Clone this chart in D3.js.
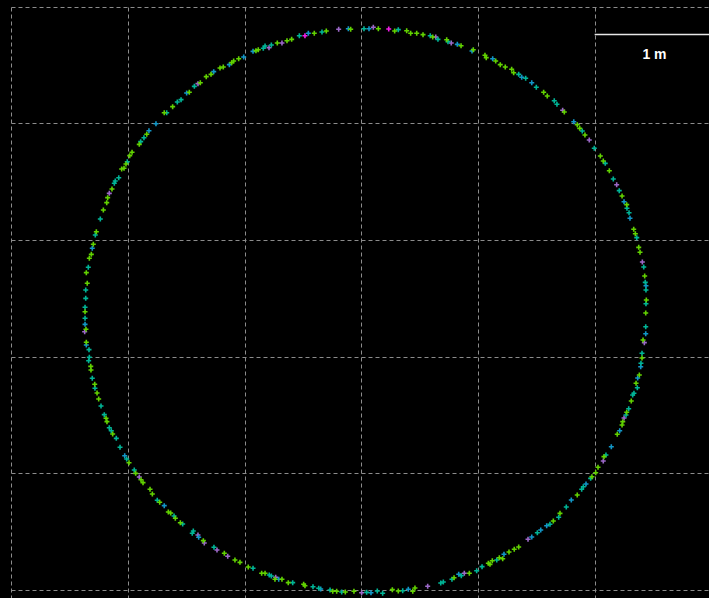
<!DOCTYPE html>
<html>
<head>
<meta charset="utf-8">
<script src="https://cdn.jsdelivr.net/npm/d3@7/dist/d3.min.js"></script>
<style>
  html, body { margin: 0; padding: 0; background: #000; }
  svg { display: block; }
</style>
</head>
<body>
<div id="chart"></div>
<script>
// Scan returns of a round room, positions in metres (x to the right, y up).
const xs = [
  0.632,0.632,0.638,0.638,0.651,0.643,0.660,0.669,0.686,0.694,
  0.703,0.720,0.729,0.763,0.789,0.818,0.826,0.840,0.863,0.883,
  0.891,0.921,0.946,0.966,0.983,0.994,1.015,1.035,1.097,1.109,
  1.137,1.161,1.180,1.240,1.311,1.332,1.383,1.423,1.455,1.503,
  1.526,1.569,1.600,1.620,1.671,1.712,1.735,1.789,1.817,1.869,
  1.889,1.906,1.949,1.992,2.072,2.097,2.117,2.160,2.175,2.209,
  2.229,2.280,2.320,2.363,2.403,2.469,2.517,2.546,2.597,2.663,
  2.700,2.806,2.889,2.909,3.023,3.066,
  3.103,3.146,3.235,3.317,
  3.286,3.389,3.423,3.475,3.529,3.591,3.612,3.638,3.657,3.732,
  3.743,3.771,3.823,3.855,3.949,3.960,4.060,4.071,4.126,4.152,
  4.191,4.234,4.289,4.306,4.349,4.375,4.409,4.461,4.500,4.563,
  4.594,4.654,4.677,4.726,4.740,4.821,4.851,4.872,4.894,4.917,
  4.954,4.997,5.049,5.074,5.091,5.126,5.160,5.189,5.211,5.235,
  5.252,5.275,5.277,5.295,5.303,5.335,5.349,5.361,5.378,5.389,
  5.409,5.421,5.429,5.434,5.440,5.440,5.443,5.440,5.438,
  5.438,5.438,5.426,5.415,5.406,5.406,5.397,5.395,5.383,5.369,5.355,
  5.366,5.337,5.326,5.314,5.292,5.275,5.269,5.252,5.241,5.235,
  5.215,5.194,5.143,5.097,5.080,5.074,5.029,5.009,4.977,4.966,
  4.926,4.903,4.889,4.851,4.800,4.757,4.703,4.692,4.646,4.617,
  4.589,4.538,4.509,4.461,4.429,4.349,4.311,4.266,4.223,4.212,
  4.183,4.161,4.123,4.103,4.089,4.035,3.989,3.926,3.883,3.857,
  3.835,3.795,3.777,3.703,3.681,3.569,3.460,3.441,3.403,3.355,
  3.317,3.266,3.183,3.137,3.083,3.046,3.003,
  0.632,0.632,0.640,
  0.629,0.643,0.643,0.666,0.669,0.663,0.681,0.683,0.694,0.715,
  0.717,0.735,0.749,0.769,0.797,0.812,0.820,0.840,0.857,0.869,
  0.900,0.932,0.972,0.989,1.009,1.054,1.066,1.097,1.112,1.129,
  1.189,1.209,1.251,1.272,1.311,1.346,1.366,1.395,1.406,1.449,
  1.469,1.551,1.560,1.600,1.606,1.646,1.654,1.737,1.763,1.826,
  1.855,1.917,1.960,2.031,2.072,2.146,2.175,2.211,2.229,2.266,
  2.260,2.292,2.320,2.374,2.412,2.506,2.517,2.586,2.635,2.652,
  2.732,2.755,2.789,2.832,2.863,2.937
];

const ys = [
  2.385,2.423,2.500,2.571,2.629,2.720,2.766,2.843,2.877,2.929,
  2.963,3.043,3.071,3.180,3.257,3.320,3.363,3.400,3.437,3.486,
  3.506,3.534,3.609,3.615,3.651,3.671,3.723,3.752,3.820,3.843,
  3.877,3.906,3.937,3.997,4.091,4.091,4.143,4.183,4.203,4.260,
  4.266,4.317,4.340,4.348,4.400,4.420,4.443,4.474,4.483,4.503,
  4.520,4.534,4.554,4.569,4.617,4.623,4.631,4.643,4.663,4.648,
  4.671,4.689,4.689,4.708,4.720,4.751,4.751,4.772,4.772,4.783,
  4.791,4.806,4.811,4.806,4.811,4.811,
  4.823,4.811,4.809,4.803,
  4.791,4.794,4.772,4.772,4.760,4.751,4.740,4.740,4.720,4.717,
  4.700,4.689,4.677,4.665,4.620,4.631,4.583,4.563,4.554,4.534,
  4.503,4.483,4.463,4.434,4.420,4.395,4.386,4.348,4.309,4.266,
  4.234,4.194,4.163,4.112,4.097,4.014,3.988,3.957,3.934,3.900,
  3.857,3.786,3.720,3.677,3.657,3.594,3.523,3.474,3.423,3.377,
  3.328,3.303,3.272,3.234,3.186,3.092,3.054,3.020,2.937,2.895,
  2.811,2.769,2.691,2.637,2.608,2.571,2.486,2.454,2.374,
  2.257,2.197,2.120,2.143,2.029,1.989,1.943,1.914,1.843,1.817,1.772,
  1.734,1.686,1.671,1.620,1.554,1.523,1.500,1.474,1.443,1.414,
  1.365,1.335,1.228,1.157,1.143,1.106,1.052,1.005,0.971,0.957,
  0.909,0.885,0.863,0.814,0.771,0.711,0.657,0.623,0.591,0.563,
  0.551,0.514,0.491,0.454,0.435,0.369,0.349,0.326,0.306,0.268,
  0.277,0.257,0.251,0.220,0.229,0.200,0.165,0.143,0.143,0.123,
  0.135,0.105,0.092,0.069,0.060,0.032,0.017,-0.011,0.006,-0.006,
  -0.009,0.003,-0.028,-0.009,-0.023,-0.020,-0.023,
  2.329,2.277,2.235,
  2.214,2.123,2.100,2.060,1.995,1.965,1.917,1.886,1.815,1.763,
  1.729,1.689,1.637,1.577,1.503,1.472,1.443,1.391,1.365,1.337,
  1.300,1.223,1.151,1.123,1.091,1.029,1.000,0.969,0.945,0.920,
  0.863,0.823,0.769,0.752,0.723,0.669,0.660,0.634,0.615,0.577,
  0.566,0.486,0.506,0.471,0.452,0.423,0.403,0.366,0.343,0.315,
  0.289,0.257,0.237,0.197,0.186,0.143,0.143,0.129,0.120,0.109,
  0.092,0.092,0.092,0.063,0.063,0.049,0.037,0.028,0.015,0.009,
  0.000,-0.011,-0.011,-0.017,-0.017,-0.011
];

// Return intensity level of each point (0 = weakest ... 4 = strongest).
const intensity = [
  0,1,1,1,0,0,1,0,0,2, 0,1,0,1,0,0,0,3,0,1, 1,1,0,0,0,1,0,0,0,1,
  1,0,2,2,0,1,0,1,1,2, 0,1,3,0,0,0,2,0,0,2, 0,0,0,2,2,0,0,1,1,3,
  1,0,3,0,0,1,4,2,0,1, 0,3,2,0,1,2,
  3,0,4,1,
  0,0,0,0,0,1,0,3,1,0, 1,3,2,0,2,0,0,0,2,0, 0,0,0,0,1,2,1,2,1,0,
  0,1,1,3,0,2,0,0,1,0, 3,1,0,0,1,0,1,3,1,0, 2,0,1,1,2,0,0,1,0,0,
  3,1,0,1,2,1,0,1,0,
  1,2,3,0,1,0,1,2,0,2,0,
  1,1,1,0,1,0,1,3,0,0, 2,0,2,1,0,3,0,0,0,1, 2,1,1,0,2,1,0,1,0,1,
  2,2,1,2,3,0,0,0,2,0, 0,1,0,0,0,1,1,0,3,1, 2,0,1,1,1,3,0,0,2,1,
  0,0,1,1,2,1,3,
  1,2,0,
  3,0,2,1,1,1,0,0,1,0, 1,0,0,1,1,0,0,1,1,0, 1,1,2,1,0,1,0,3,0,0,
  0,0,1,0,2,0,0,1,0,0, 1,1,1,3,2,0,3,1,3,0, 3,0,0,0,1,0,0,1,1,3,
  0,2,0,0,1,0,0,1,1,2, 1,0,0,1,0,0
];

const intensityColors = ["#62d200", "#00b496", "#1296c6", "#9c68c8", "#f01ee6"];
const xTicks = [0, 1, 2, 3, 4, 5, 6];
const yTicks = [0, 1, 2, 3, 4, 5];
const scaleBar = { from: 5, to: 6, label: "1 m" };

const W = 709, H = 598;
const x = d3.scaleLinear().domain([0, 6]).range([11.3, 711.3]);
const y = d3.scaleLinear().domain([0, 5]).range([590, 6.67]);
const color = d3.scaleOrdinal().domain([0, 1, 2, 3, 4]).range(intensityColors);
const crisp = v => Math.round(v) + 0.5;

const svg = d3.select("#chart").append("svg")
  .attr("width", W).attr("height", H);

svg.append("rect").attr("width", W).attr("height", H).attr("fill", "#000");

// Dashed metre grid
const grid = svg.append("g")
  .attr("stroke", "#8c8c8c").attr("stroke-width", 1)
  .attr("stroke-dasharray", "4,3").attr("fill", "none");

grid.selectAll("line.v").data(xTicks).join("line").attr("class", "v")
  .attr("x1", d => crisp(x(d))).attr("x2", d => crisp(x(d)))
  .attr("y1", crisp(y(5))).attr("y2", H);

grid.selectAll("line.h").data(yTicks).join("line").attr("class", "h")
  .attr("x1", crisp(x(0))).attr("x2", W)
  .attr("y1", d => crisp(y(d))).attr("y2", d => crisp(y(d)));

// Scan points drawn as small crosses
const pts = d3.range(xs.length).map(i => ({ x: xs[i], y: ys[i], v: intensity[i] }));
pts.sort((a, b) => b.v - a.v);

svg.append("g").selectAll("path").data(pts).join("path")
  .attr("transform", d => `translate(${x(d.x)},${y(d.y)})`)
  .attr("d", "M-2.5,0H2.5M0,-2.5V2.5")
  .attr("stroke", d => color(d.v))
  .attr("stroke-width", 1.6)
  .attr("fill", "none");

// Scale bar
const bar = svg.append("g");
bar.append("line")
  .attr("x1", x(scaleBar.from)).attr("x2", x(scaleBar.to))
  .attr("y1", 34.5).attr("y2", 34.5)
  .attr("stroke", "#e6e6e6").attr("stroke-width", 1.5);
bar.append("text")
  .attr("x", 654.5).attr("y", 59)
  .attr("text-anchor", "middle")
  .attr("fill", "#ffffff")
  .attr("font-family", "'Liberation Sans', Arial, sans-serif")
  .attr("font-weight", "bold")
  .attr("font-size", 14)
  .text(scaleBar.label);
</script>
</body>
</html>
